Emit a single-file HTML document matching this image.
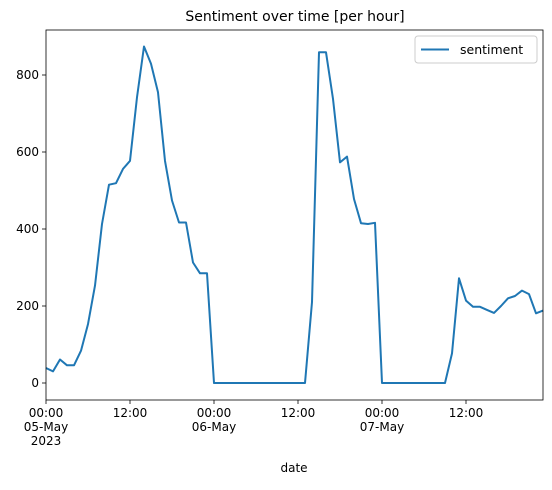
<!DOCTYPE html>
<html><head><meta charset="utf-8"><style>
body{margin:0;background:#fff;font-family:"Liberation Sans","DejaVu Sans",sans-serif;}
svg text{font-family:"DejaVu Sans","Liberation Sans",sans-serif;fill:#000;}
</style></head><body>
<svg id="chart" width="552" height="485" viewBox="0 0 552 485" xmlns="http://www.w3.org/2000/svg">
<text x="295" y="21" font-size="14" text-anchor="middle">Sentiment over time [per hour]</text>
<g id="plot"></g>
<text x="294" y="472" font-size="12" text-anchor="middle">date</text>
<g>
<rect x="415" y="36" width="122" height="27" rx="3" fill="#fff" stroke="#ccc"/>
<line x1="421" y1="49.5" x2="449" y2="49.5" stroke="#1f77b4" stroke-width="2"/>
<text x="460" y="54" font-size="12.5">sentiment</text>
</g>
</svg>
<script>
const hours = Array.from({length:72},(_,i)=>i);
const sentiment = [39,30,61,46,46,84,153,253,413,515,519,556,577,742,874,829,755,577,474,417,417,313,285,285,
0,0,0,0,0,0,0,0,0,0,0,0,0,0,210,859,859,738,573,588,478,415,413,416,
0,0,0,0,0,0,0,0,0,0,77,272,214,198,198,190,182,200,220,226,240,231,181,188];
const yTicks = [0,200,400,600,800];
const xMajor = [0,24,48];
const xMajorLabels = [["00:00","05-May","2023"],["00:00","06-May"],["00:00","07-May"]];
const xMid = [12,36,60];
const xMidLabels = ["12:00","12:00","12:00"];

const L=46,R=543,T=30,B=400;
const x = h => L + (h-0)/(71-0)*(R-L);
const y = v => 383 - v*0.385;
const ns="http://www.w3.org/2000/svg";
const g=document.getElementById('plot');
function el(tag,attrs,txt){const e=document.createElementNS(ns,tag);for(const k in attrs)e.setAttribute(k,attrs[k]);if(txt!==undefined)e.textContent=txt;g.appendChild(e);return e;}

yTicks.forEach(v=>{
  const t=el('line',{x1:L-4,x2:L,y1:y(v),y2:y(v),stroke:'#000','stroke-width':0.8});
  
  
  const lb=el('text',{x:L-7,y:y(v)+4,'font-size':12,'text-anchor':'end'},String(v));
  
  
});
xMajor.forEach((h,i)=>{
  const t=el('line',{x1:x(h),x2:x(h),y1:B,y2:B+4,stroke:'#000','stroke-width':0.8});
  
  
  xMajorLabels[i].forEach((s,j)=>{
    const lb=el('text',{x:x(h),y:B+17+j*14,'font-size':12,'text-anchor':'middle'},s);
    
    
  });
});
xMid.forEach((h,i)=>{
  const t=el('line',{x1:x(h),x2:x(h),y1:B,y2:B+4,stroke:'#000','stroke-width':0.8});
  
  
  const lb=el('text',{x:x(h),y:B+17,'font-size':12,'text-anchor':'middle'},xMidLabels[i]);
  
  
});
const pts=hours.map((h,i)=>x(h).toFixed(1)+','+y(sentiment[i]).toFixed(1)).join(' ');
const line=el('polyline',{points:pts,fill:'none',stroke:'#1f77b4','stroke-width':2,'stroke-linejoin':'round'});


const frame=el('rect',{x:L,y:T,width:R-L,height:B-T,fill:'none',stroke:'#000','stroke-width':0.8});


</script>
</body></html>
